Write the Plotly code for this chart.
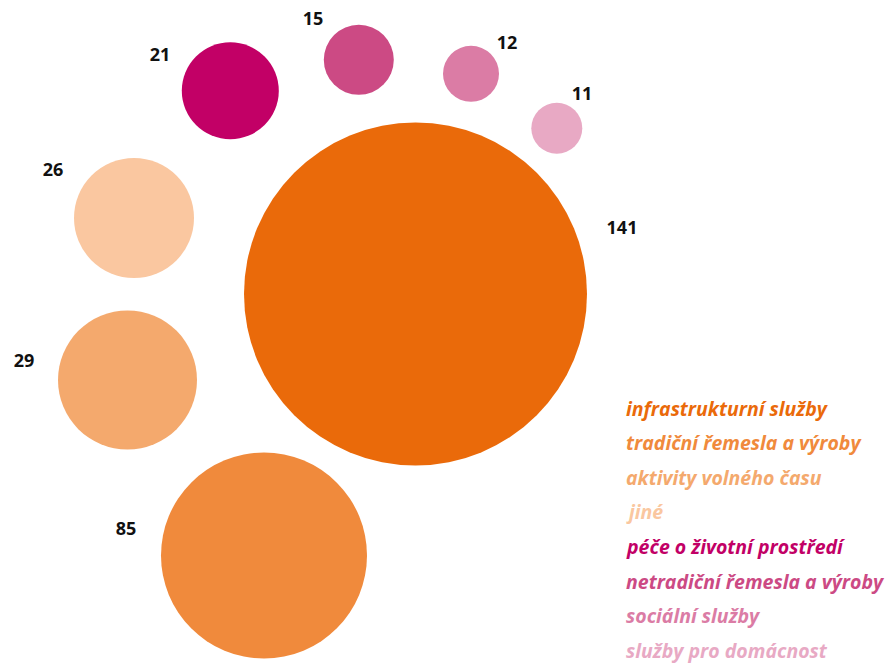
import plotly.graph_objects as go

# ---- data ----
categories = [
    "infrastrukturní služby",
    "tradiční řemesla a výroby",
    "aktivity volného času",
    "jiné",
    "péče o životní prostředí",
    "netradiční řemesla a výroby",
    "sociální služby",
    "služby pro domácnost",
]
values = [141, 85, 29, 26, 21, 15, 12, 11]

# ---- layout / style ----
colors = ["#EA6A0A", "#F08A3C", "#F4A96D", "#FAC7A0",
          "#C20066", "#CC4A84", "#DB7CA5", "#E8A9C4"]
center_x = [415.5, 264, 127.5, 134, 230.3, 358.8, 471, 556.8]
center_y = [294, 555.5, 380, 218, 90.8, 59.8, 73.8, 128.2]
diameter = [343, 206, 139, 120, 97, 70, 56, 51]
label_x = [622, 126, 24, 53, 160, 313, 507, 582]
label_y = [229, 530, 362, 171, 56, 20, 44, 95]
legend_x = 625
legend_y0 = 408
legend_dy = 34.6

W, H = 896, 665

fig = go.Figure()
fig.add_trace(go.Scatter(
    x=center_x, y=center_y, mode="markers",
    marker=dict(size=diameter, color=colors, line=dict(width=0), opacity=1),
    text=categories, customdata=values,
    hovertemplate="%{text}: %{customdata}<extra></extra>",
    showlegend=False,
))
fig.add_trace(go.Scatter(
    x=label_x, y=label_y, mode="text",
    text=[str(v) for v in values],
    textfont=dict(family="Open Sans", size=18, color="#111111", weight="bold"),
    textposition="middle center", hoverinfo="skip", showlegend=False,
))

annotations = []
for i, (cat, col) in enumerate(zip(categories, colors)):
    annotations.append(dict(
        x=legend_x, y=legend_y0 + i * legend_dy, xref="x", yref="y",
        text=f"<b><i>{cat}</i></b>", showarrow=False,
        xanchor="left", yanchor="middle", borderpad=0,
        font=dict(family="Open Sans", size=19.5, color=col),
    ))

fig.update_layout(
    width=W, height=H,
    margin=dict(l=0, r=0, t=0, b=0),
    paper_bgcolor="white", plot_bgcolor="white",
    xaxis=dict(range=[0, W], visible=False, fixedrange=True),
    yaxis=dict(range=[H, 0], visible=False, fixedrange=True),
    annotations=annotations,
)
fig.write_html("out.html", config={"displayModeBar": False},
               post_script="document.body.style.margin='0';document.body.style.overflow='hidden';")
